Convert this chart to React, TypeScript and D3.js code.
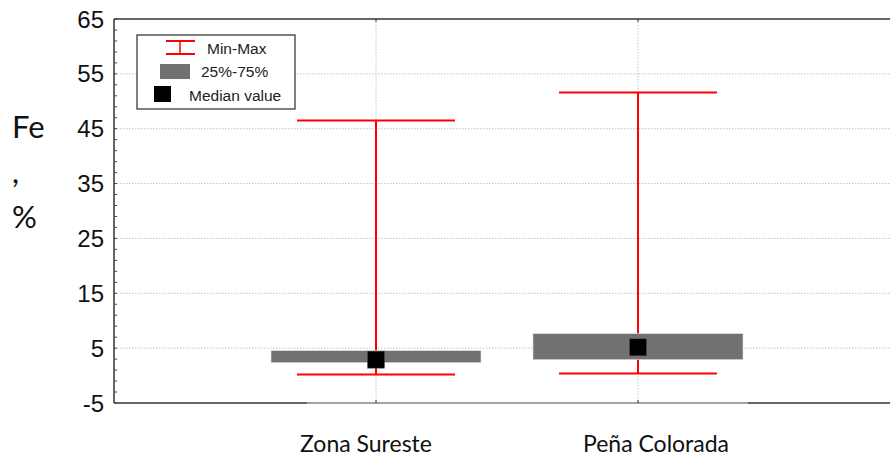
import React from "react";
import * as d3 from "d3";

const categories = ["Zona Sureste", "Peña Colorada"];
const minValues = [0.2, 0.4];
const maxValues = [46.5, 51.6];
const q1Values = [2.35, 2.9];
const q3Values = [4.55, 7.65];
const medianValues = [2.9, 5.15];
const yTicks = [-5, 5, 15, 25, 35, 45, 55, 65];
const yAxisLabelLines = ["Fe", ",", "%"];
const legendLabels = ["Min-Max", "25%-75%", "Median value"];
const labelDx = [-10, 18];

const W = 890;
const H = 459;
const left = 114;
const top = 19;
const right = 900;
const bottom = 403;

export default function App() {
  const y = d3.scaleLinear().domain([-5, 65]).range([bottom, top]);
  const x = d3.scalePoint<string>().domain(categories).range([left, right]).padding(1);
  const minorTicks = d3.range(-5, 65.01, 2);
  const boxHalf = 105;
  const capHalf = 79;
  const med = 17;
  const red = "#ff0000";
  const gray = "#717171";
  const grid = "#c4c4c4";
  const sans = "'Liberation Sans', Arial, sans-serif";
  const cal = "Lato, 'Open Sans', sans-serif";

  return (
    <svg width={W} height={H} style={{ position: "absolute", left: 0, top: 0, background: "#fff" }}>
      {/* horizontal grid */}
      {yTicks.slice(1, -1).map((t) => (
        <line key={"hg" + t} x1={left} x2={right} y1={y(t)} y2={y(t)} stroke={grid} strokeWidth={1} strokeDasharray="1.5,1.5" />
      ))}
      {/* vertical grid */}
      {categories.map((c) => (
        <line key={"vg" + c} x1={x(c)} x2={x(c)} y1={top} y2={bottom} stroke={grid} strokeWidth={1} strokeDasharray="1.5,1.5" />
      ))}
      {/* axes frame */}
      <line x1={left} x2={right} y1={top} y2={top} stroke="#333" strokeWidth={1.5} />
      <line x1={left} x2={left} y1={top} y2={bottom} stroke="#333" strokeWidth={1.5} />
      <line x1={left} x2={right} y1={bottom} y2={bottom} stroke="#333" strokeWidth={1.5} />
      <line x1={307} x2={748} y1={bottom} y2={bottom} stroke="#b8b8b8" strokeWidth={1.5} />
      {/* minor ticks */}
      {minorTicks.map((t) => (
        <line key={"mt" + t} x1={left} x2={left + 3} y1={y(t)} y2={y(t)} stroke="#444" strokeWidth={1} />
      ))}
      {categories.map((c) => (
        <g key={"xt" + c}>
          <line x1={x(c)} x2={x(c)} y1={top} y2={top + 3} stroke="#333" strokeWidth={1} />
          <line x1={x(c)} x2={x(c)} y1={bottom} y2={bottom - 3} stroke="#333" strokeWidth={1} />
        </g>
      ))}
      {/* y tick labels */}
      {yTicks.map((t) => (
        <text key={"yl" + t} x={104} y={y(t)} dy="0.36em" textAnchor="end" fontFamily={sans} fontSize={24} fill="#111">
          {t}
        </text>
      ))}
      {/* y axis label */}
      {yAxisLabelLines.map((s, i) => (
        <text key={"ya" + i} x={12} y={138 + i * 45} fontFamily={cal} fontSize={31} fill="#111">
          {s}
        </text>
      ))}
      {/* boxes */}
      {categories.map((c, i) => {
        const cx = x(c) as number;
        return (
          <g key={"b" + c}>
            <line x1={cx} x2={cx} y1={y(maxValues[i])} y2={y(minValues[i])} stroke={red} strokeWidth={2} />
            <line x1={cx - capHalf} x2={cx + capHalf} y1={y(maxValues[i])} y2={y(maxValues[i])} stroke={red} strokeWidth={2} />
            <line x1={cx - capHalf} x2={cx + capHalf} y1={y(minValues[i])} y2={y(minValues[i])} stroke={red} strokeWidth={2} />
            <rect x={cx - boxHalf} width={boxHalf * 2} y={y(q3Values[i])} height={y(q1Values[i]) - y(q3Values[i])} fill={gray} stroke="#e0e0e0" strokeWidth={0.6} />
            <rect x={cx - med / 2} y={y(medianValues[i]) - med / 2} width={med} height={med} fill="#000" stroke="#555" strokeWidth={0.5} />
          </g>
        );
      })}
      {/* x labels */}
      {categories.map((c, i) => (
        <text key={"xl" + c} x={(x(c) as number) + labelDx[i]} y={452} textAnchor="middle" fontFamily={cal} fontSize={23} fill="#111">
          {c}
        </text>
      ))}
      {/* legend */}
      <g>
        <rect x={137} y={35} width={158} height={74} fill="#fff" stroke="#000" strokeWidth={1} />
        <line x1={166} x2={195} y1={41} y2={41} stroke={red} strokeWidth={2} />
        <line x1={166} x2={195} y1={54} y2={54} stroke={red} strokeWidth={2} />
        <line x1={180} x2={180} y1={41} y2={54} stroke={red} strokeWidth={1.5} />
        <text x={207} y={54} fontFamily={sans} fontSize={15.5} fill="#222">{legendLabels[0]}</text>
        <rect x={160} y={64} width={30} height={15} fill={gray} />
        <text x={201} y={77} fontFamily={sans} fontSize={15.5} fill="#222">{legendLabels[1]}</text>
        <rect x={154} y={86} width={17} height={16} fill="#000" />
        <text x={189} y={101} fontFamily={sans} fontSize={15.5} fill="#222">{legendLabels[2]}</text>
      </g>
    </svg>
  );
}
